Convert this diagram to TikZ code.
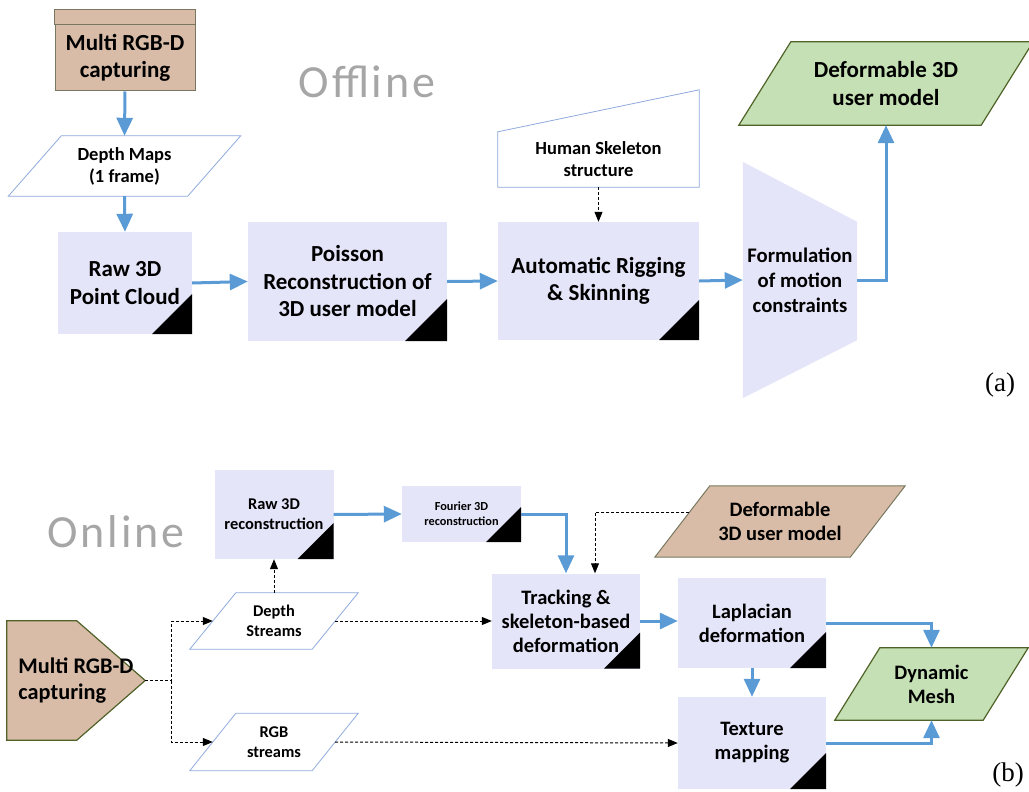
\documentclass[tikz,border=0pt]{standalone}
\usepackage{fontspec}
\setmainfont{Carlito}
\newfontfamily\phasefont[LetterSpace=6]{Carlito}
\newfontfamily\tagfont{Liberation Serif}
\usetikzlibrary{arrows.meta,calc,backgrounds}
\definecolor{cLav}{RGB}{229,229,250}
\definecolor{cTan}{RGB}{216,188,167}
\definecolor{cTanLine}{RGB}{120,120,96}
\definecolor{cGreen}{RGB}{197,224,180}
\definecolor{cGreenLine}{RGB}{79,98,40}
\definecolor{cIoLine}{RGB}{143,170,220}
\definecolor{cArrow}{RGB}{91,155,213}
\definecolor{cPhase}{RGB}{166,166,166}
\tikzset{procbox/.style={
  shape=rectangle,
  fill=cLav,
  inner sep=0pt,
  align=center,
  path picture={\fill[black] (path picture bounding box.south east) -- ++(-#1,0) -- ++(#1,#1) -- cycle;},
  },
  procbox/.default=40pt
}
\tikzset{iotext/.style={
  shape=rectangle,
  inner sep=0pt,
  align=center,
  }
}
\tikzset{capbox/.style={
  shape=rectangle,
  fill=cTan,
  draw=cTanLine,
  line width=1pt,
  inner sep=0pt,
  align=center,
  }
}
\tikzset{bigtxt/.style={font=\bfseries\fontsize{23}{27.5}\selectfont}}
\tikzset{formtxt/.style={font=\bfseries\fontsize{20.7}{25}\selectfont}}
\tikzset{midtxt/.style={font=\bfseries\fontsize{20.5}{24}\selectfont}}
\tikzset{smalltxt/.style={font=\bfseries\fontsize{18.5}{22}\selectfont}}
\tikzset{streamtxt/.style={font=\bfseries\fontsize{16.4}{20}\selectfont}}
\tikzset{tinytxt/.style={font=\bfseries\fontsize{12.3}{15}\selectfont}}
\tikzset{phase/.style={text=cPhase, inner sep=0pt, font=\phasefont\fontsize{46}{52}\selectfont}}
\tikzset{tag/.style={inner sep=0pt, font=\tagfont\fontsize{27}{30}\selectfont}}
\tikzset{bluearrow/.style={
  draw=cArrow,
  line width=3pt,
  -{Triangle[length=18pt,width=16pt]},
  }
}
\tikzset{dasharrow/.style={
  draw=black,
  line width=1pt,
  dash pattern=on 3pt off 2pt,
  -{Triangle[length=10pt,width=8pt]},
  }
}
\newcommand{\slantframe}[3]{\path[#1] ($(#2.south west)+(-#3,0)$) -- ($(#2.south east)+(-#3,0)$) -- ($(#2.north east)+(#3,0)$) -- ($(#2.north west)+(#3,0)$) -- cycle;}

\begin{document}
\begin{tikzpicture}[x=1pt,y=-1pt]
  \useasboundingbox (0,0) rectangle (1029,792);

  % offline stage
  \node [phase, anchor=base] (offline) at (367,98) {Offline};
  \node [capbox, bigtxt, minimum width=140pt, minimum height=66pt] (captA) at (125,58) {Multi RGB-D\\capturing};
  \path [fill=cTan, draw=cTanLine, line width=1pt] (captA.north west) rectangle ($(captA.north east)+(0,-15)$);
  \node [iotext, smalltxt, minimum width=179pt, minimum height=60pt] (dmaps) at (124.5,166) {Depth Maps\\(1 frame)};
  \node [procbox, bigtxt, minimum width=134pt, minimum height=102pt] (rawpc) at (125,283) {Raw 3D\\Point Cloud};
  \node [procbox=42pt, bigtxt, minimum width=199pt, minimum height=119pt] (poisson) at (347.5,281.5) {Poisson\\Reconstruction of\\3D user model};
  \node [procbox, bigtxt, minimum width=201pt, minimum height=118pt] (rig) at (598.5,281) {Automatic Rigging\\\& Skinning};
  \node [iotext, smalltxt, minimum width=201pt, minimum height=55pt] (skel) at (598.5,159.5) {Human Skeleton\\structure};
  \node [iotext, formtxt, minimum width=114pt, minimum height=236pt] (form) at (800,280) {Formulation\\of motion\\constraints};
  \node [iotext, bigtxt, minimum width=242pt, minimum height=83pt] (defA) at (886,83.5) {Deformable 3D\\user model};
  \node [tag, anchor=base] (taga) at (1000,391) {(a)};

  % online stage
  \node [phase, anchor=base] (online) at (116,547) {Online};
  \node [iotext, font=\bfseries\fontsize{22.3}{26}\selectfont, align=left, minimum width=138pt, minimum height=119pt] (captB) at (76,680.5) {Multi RGB-D\\capturing};
  \node [iotext, streamtxt, minimum width=122pt, minimum height=56pt] (dstr) at (274,621) {Depth\\Streams};
  \node [iotext, streamtxt, minimum width=122pt, minimum height=57pt] (rgbs) at (274,742) {RGB\\streams};
  \node [procbox=36pt, streamtxt, minimum width=119pt, minimum height=89pt] (raw3d) at (274,514.5) {Raw 3D\\reconstruction};
  \node [procbox=35pt, tinytxt, minimum width=119pt, minimum height=56pt] (four) at (461.5,514) {Fourier 3D\\reconstruction};
  \node [procbox=36pt, midtxt, minimum width=148pt, minimum height=95pt] (track) at (566,621) {Tracking \&\\skeleton-based\\deformation};
  \node [iotext, midtxt, minimum width=195pt, minimum height=71pt] (defB) at (780,521.5) {Deformable\\3D user model};
  \node [procbox=36pt, midtxt, minimum width=148pt, minimum height=90pt] (lap) at (752,623) {Laplacian\\deformation};
  \node [procbox=36pt, midtxt, minimum width=148pt, minimum height=92pt] (tex) at (752,743) {Texture\\mapping};
  \node [iotext, midtxt, minimum width=148pt, minimum height=72pt] (mesh) at (931.5,684) {Dynamic\\Mesh};
  \node [tag, anchor=base] (tagb) at (1008,781) {(b)};

  \begin{scope}[on background layer]
    \slantframe{fill=white, draw=cIoLine, line width=0.8pt}{dmaps}{26.5}
    \path [fill=white, draw=cIoLine, line width=0.8pt] (skel.south west) -- (skel.south east) -- ($(skel.north east)+(0,-42)$) -- (skel.north west) -- cycle;
    \path [fill=cLav] (form.north west) -- ($(form.north east)+(0,60)$) -- ($(form.south east)+(0,-58)$) -- (form.south west) -- cycle;
    \slantframe{fill=cGreen, draw=cGreenLine, line width=1.2pt}{defA}{26}
    \path [fill=cTan, draw=cGreenLine, line width=1.2pt] (captB.north west) -- ($(captB.north west)+(70,0)$) -- (captB.east) -- ($(captB.south west)+(70,0)$) -- (captB.south west) -- cycle;
    \slantframe{fill=white, draw=cIoLine, line width=0.8pt}{dstr}{23}
    \slantframe{fill=white, draw=cIoLine, line width=0.8pt}{rgbs}{23}
    \slantframe{fill=cTan, draw=cTanLine, line width=1pt}{defB}{27.5}
    \slantframe{fill=cGreen, draw=cGreenLine, line width=1.2pt}{mesh}{22.5}
  \end{scope}

  % offline connectors
  \draw [bluearrow] (captA.south) -- (dmaps.north);
  \draw [bluearrow] (dmaps.south) -- (rawpc.north);
  \draw [bluearrow] (rawpc.east) -- (poisson.west);
  \draw [bluearrow] (poisson.east) -- (rig.west);
  \draw [dasharrow] (skel.south) -- (rig.north);
  \draw [bluearrow] (rig.east) -- (form.west);
  \draw [bluearrow] (form.east) -| (defA.south);

  % online connectors
  \coordinate (split) at ($(captB.east)+(26,0)$);
  \draw [dasharrow] (captB.east) -- (split) |- (dstr.west);
  \draw [dasharrow] (split) |- (rgbs.west);
  \draw [dasharrow] (dstr.north) -- (raw3d.south);
  \draw [dasharrow] (dstr.east) -- (track.west);
  \draw [dasharrow] (rgbs.east) -- (tex.west);
  \draw [bluearrow] (raw3d.east) -- (four.west);
  \draw [bluearrow] (four.east) -| (track.north);
  \draw [dasharrow] ($(defB.west)+(7,-9)$) -| ($(track.north)+(29,0)$);
  \draw [bluearrow] (track.east) -- (track.east -| lap.west);
  \draw [bluearrow] (lap.south) -- (tex.north);
  \draw [bluearrow] (lap.east) -| (mesh.north);
  \draw [bluearrow] (tex.east) -| (mesh.south);
\end{tikzpicture}
\end{document}
